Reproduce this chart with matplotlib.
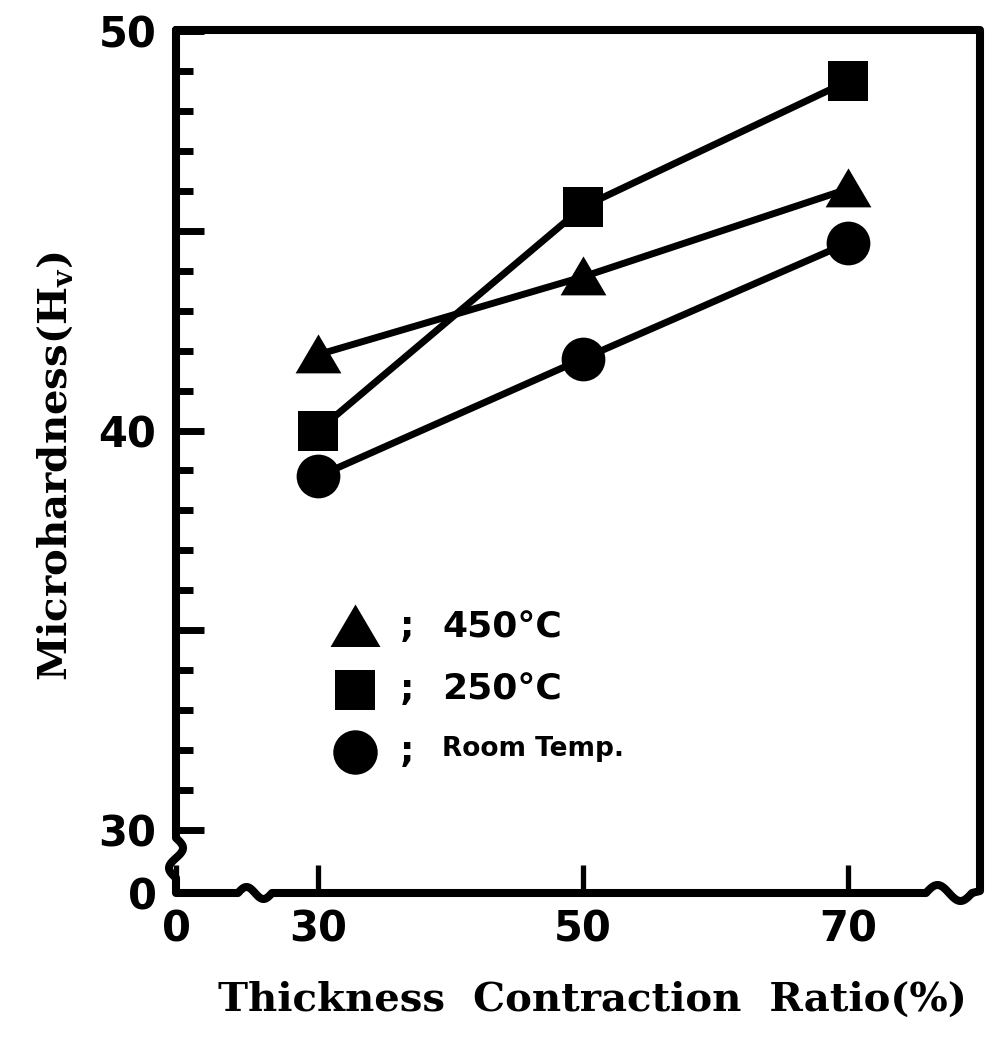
import numpy as np
import matplotlib
matplotlib.use("Agg")
import matplotlib.pyplot as plt

# ---------------- data ----------------
ratio = [30, 50, 70]                      # thickness contraction ratio (%)
hv_450 = [41.9, 43.85, 46.05]             # 450 C
hv_250 = [40.0, 45.6, 48.75]              # 250 C
hv_room = [38.85, 41.8, 44.7]             # room temperature
series_labels = ["450°C", "250°C", "Room Temp."]

ytick_vals = [30, 35, 40, 45, 50]
ytick_labels = ["30", "", "40", "", "50"]
xtick_vals = [30, 50, 70]

# ---------------- figure ----------------
W, H = 999, 1042
fig = plt.figure(figsize=(W / 100, H / 100), dpi=100)
L, R, T, B = 176, 980, 30, 893          # axes box in pixels
ax = fig.add_axes([L / W, 1 - B / H, (R - L) / W, (B - T) / H])

xmin, xmax = 19.28, 79.96
ymin, ymax = 28.42, 50.03
ax.set_xlim(xmin, xmax)
ax.set_ylim(ymin, ymax)

tri = [(-1, -0.78), (1, -0.78), (0, 0.92)]
lw = 5.0
ax.plot(ratio, hv_450, color="k", lw=lw, marker=tri, ms=33, mew=0, zorder=3)
ax.plot(ratio, hv_250, color="k", lw=lw, marker="s", ms=28.5, mew=0, zorder=3)
ax.plot(ratio, hv_room, color="k", lw=lw, marker="o", ms=31.5, mew=0, zorder=3)

# ---------------- frame with axis breaks ----------------
for s in ax.spines.values():
    s.set_visible(False)

aw, ah = R - L, B - T


def to_ax(px, py):
    return (np.asarray(px, float) - L) / aw, (B - np.asarray(py, float)) / ah


def wiggle(a, b, amp, n=40):
    t = np.linspace(0, 1, n)
    return a + (b - a) * t, amp * np.sin(2 * np.pi * t)


# left spine (top -> bottom) with break
ys, offs = wiggle(838, 878, 7)
lx = np.concatenate([[L, L], L + offs, [L, L]])
ly = np.concatenate([[T, 838], ys, [878, B]])
# bottom spine (left -> right) with two breaks
xs1, o1 = wiggle(238, 272, -6)
xs2, o2 = wiggle(926, 972, -8)
bx = np.concatenate([xs1, xs2, [R]])
by = np.concatenate([B + o1, B + o2, [B - 2]])
# right spine up, then top spine back to the left
rx = [R, L]
ry = [T, T]
fx = np.concatenate([lx, bx, rx])
fy = np.concatenate([ly, by, ry])
ax_x, ax_y = to_ax(fx, fy)
ax.plot(ax_x, ax_y, transform=ax.transAxes, color="k", lw=5.8,
        clip_on=False, solid_joinstyle="round", solid_capstyle="round", zorder=4)

# ---------------- ticks ----------------
ax.set_yticks([ymin] + ytick_vals, ["0"] + ytick_labels)
ax.set_yticks([v for v in range(31, 50) if v % 5 != 0], minor=True)
ax.set_xticks([xmin] + xtick_vals, ["0"] + [str(v) for v in xtick_vals])
ax.set_xticks([], minor=True)
for lab in ax.get_yticklabels() + ax.get_xticklabels():
    lab.set_fontfamily("DejaVu Sans")
    lab.set_fontweight("bold")
    lab.set_fontsize(30)
ax.tick_params(axis="y", which="major", direction="in", length=20, width=5, pad=14)
ax.tick_params(axis="y", which="minor", direction="in", length=12, width=5)
ax.tick_params(axis="x", which="major", direction="in", length=20, width=3.8, pad=11)

# ---------------- labels ----------------
ax.set_ylabel("Microhardness(H$_{\\mathregular{v}}$)", family="DejaVu Serif",
              weight="bold", size=29)
ax.yaxis.set_label_coords(to_ax(76, 0)[0], to_ax(0, 466)[1])
ax.set_xlabel("Thickness  Contraction  Ratio(%)", family="DejaVu Serif",
              weight="bold", size=29)
ax.xaxis.set_label_coords(to_ax(592, 0)[0], to_ax(0, 1000)[1])
ax.xaxis.label.set_va("center")

# ---------------- legend ----------------
leg_markers = [(tri, 36), ("s", 29), ("o", 32)]
leg_rows = [627, 690, 752]
for (mk, ms), py, lab in zip(leg_markers, leg_rows, series_labels):
    mx, my = to_ax(355, py)
    ax.plot([mx], [my], transform=ax.transAxes, marker=mk, ms=ms, mew=0,
            color="k", clip_on=False)
    sx, _ = to_ax(407, py)
    ax.text(sx, my, ";", transform=ax.transAxes, ha="center", va="center",
            family="DejaVu Sans", weight="bold", size=26)
    tx, _ = to_ax(442, py)
    small = lab.startswith("Room")
    ax.text(tx, my + (0.004 if small else 0), lab, transform=ax.transAxes,
            ha="left", va="center", family="DejaVu Sans", weight="bold",
            size=19 if small else 26)

fig.savefig("out.png", dpi=100)
